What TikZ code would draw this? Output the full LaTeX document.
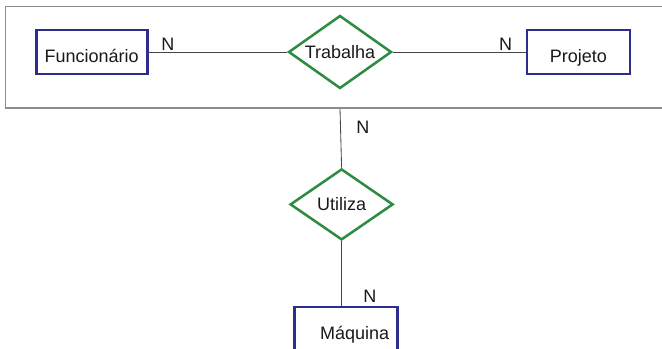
\documentclass[tikz,border=0pt]{standalone}
\usepackage{fontspec}
\setmainfont{Liberation Sans}
\usetikzlibrary{shapes.geometric}
\definecolor{entityblue}{RGB}{45,45,140}
\definecolor{relgreen}{RGB}{45,140,65}
\definecolor{linegray}{RGB}{70,70,70}
\tikzset{
    entity/.style={
        draw=entityblue, line width=2pt, rectangle,
        minimum width=2.575cm, minimum height=1.1cm,
        text height=0.54cm, text depth=0cm, inner sep=0pt,
    },
    relation/.style={
        draw=relgreen, line width=1.8pt, diamond, aspect=1.4,
        minimum width=2.575cm, minimum height=1.8cm, inner sep=0pt,
    },
    aggregate/.style={
        draw=gray!90, line width=1.1pt, rectangle, inner sep=0pt,
    },
    link/.style={draw=linegray, line width=0.6pt},
    card/.style={inner sep=1pt},
}

\begin{document}
\begin{tikzpicture}[font=\fontsize{12.8}{15}\selectfont, text=black!90]
    \useasboundingbox (0,0) rectangle (16.55,-8.725);

    % aggregation box round Trabalha
    \draw (8.5,-1.43) node[aggregate, minimum width=16.72cm, minimum height=2.54cm] (agg) {};

    \draw (2.29,-1.3) node[entity, minimum width=2.775cm] (func) {Funcionário};
    \draw (8.5,-1.3) node[relation, minimum height=1.825cm] (trab) {Trabalha};
    \draw (14.46,-1.3) node[entity] (proj) {Projeto};

    \draw (8.54,-5.11) node[relation, minimum height=1.775cm] (util) {Utiliza};
    \draw (8.64,-8.225) node[entity] (maq) {\hspace*{0.45cm}Máquina};

    \draw[link] (func) -- node[card, pos=0.14, above] {N} (trab);
    \draw[link] (trab) -- node[card, pos=0.85, above] {N} (proj);
    \draw[link] (agg.south -| trab.south) -- node[card, pos=0.31, right=0.35cm] {N} (util.north);
    \draw[link] (util.south) -- node[card, pos=0.85, right=0.5cm] {N} (util.south |- maq.north);

\end{tikzpicture}
\end{document}
